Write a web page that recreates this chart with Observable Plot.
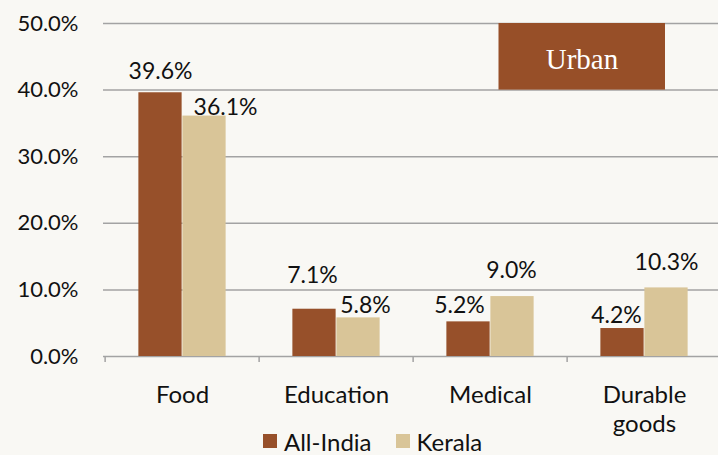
<!DOCTYPE html>
<html>
<head>
<meta charset="utf-8">
<script src="https://cdn.jsdelivr.net/npm/d3@7"></script>
<script src="https://cdn.jsdelivr.net/npm/@observablehq/plot@0.6"></script>
<style>
  html, body { margin: 0; padding: 0; background: #f9f8f4; width: 718px; height: 455px; overflow: hidden; }
  #chart { width: 722px; }
  #chart svg { display: block; overflow: visible; max-width: none !important; }
  .legend { display: flex; align-items: center; height: 18px; padding-left: 263px; font-family: Lato, sans-serif; font-size: 24px; color: #111; }
  .legend .sw { width: 14px; height: 14px; margin-right: 7px; }
  .legend .item { display: flex; align-items: center; margin-right: 24px; }
</style>
</head>
<body>
<div id="chart"></div>
<div class="legend" id="legend"></div>
<script>
// ---- data ----
const categories = ["Food", "Education", "Medical", "Durable goods"];
const tickLabels = ["Food", "Education", "Medical", "Durable\ngoods"];
const seriesNames = ["All-India", "Kerala"];
const allIndia = [0.396, 0.071, 0.052, 0.042];
const kerala = [0.361, 0.058, 0.090, 0.103];
const yTicks = [0, 0.1, 0.2, 0.3, 0.4, 0.5];
const panelLabel = "Urban";

// ---- styling ----
const colors = {"All-India": "#97502a", "Kerala": "#d9c598"};
const gridColor = "#a3a3a3";
// small pixel nudges of the value labels, as placed in the reference
const nudgeDx = {"All-India": [0, -2, -9, -6], "Kerala": [21, 7, -1, 0]};
const nudgeGap = {"All-India": [14, 26, 9, 6], "Kerala": [1, 5, 19, 18]};

const W = 722, H = 432, ML = 103, MT = 23, MB = 76;
const bw = (W - ML) / categories.length;
const barW = 44;
const outer = (bw - 2 * barW) / 2;

const rows = categories.flatMap((c, i) => [
  {category: c, series: "All-India", value: allIndia[i], i},
  {category: c, series: "Kerala", value: kerala[i], i}
]);
const rowsAI = rows.filter(d => d.series === "All-India");
const rowsK = rows.filter(d => d.series === "Kerala");
const fmt = d3.format(".1%");

const labelMarks = rows.map(d => Plot.text([d], {
  x: "category", y: "value", text: r => fmt(r.value),
  lineAnchor: "bottom",
  dx: (d.series === "All-India" ? -barW / 2 : barW / 2) + nudgeDx[d.series][d.i],
  dy: -nudgeGap[d.series][d.i],
  fontSize: 23, fill: "#111"
}));

const chart = Plot.plot({
  width: W, height: H,
  marginLeft: ML, marginRight: 0, marginTop: MT, marginBottom: MB,
  style: {background: "transparent", fontFamily: "Lato, sans-serif", fontSize: "22px", color: "#111", maxWidth: "none"},
  x: {type: "band", domain: categories, padding: 0, label: null},
  y: {domain: [0, 0.5], label: null},
  marks: [
    Plot.gridY(yTicks, {stroke: gridColor, strokeOpacity: 1, strokeWidth: 1.5}),
    Plot.ruleX(categories, {x: d => d, y1: 0, y2: 0, insetBottom: -6, dx: -bw / 2, stroke: gridColor, strokeWidth: 1.5}),
    Plot.axisY(yTicks, {tickSize: 0, tickPadding: 25, tickFormat: fmt, fontSize: 22}),
    Plot.axisX({tickSize: 0, tickPadding: 26, fontSize: 24, lineHeight: 1.2,
      tickFormat: d => tickLabels[categories.indexOf(d)]}),
    Plot.barY(rowsAI, {x: "category", y: "value", fill: colors["All-India"], insetLeft: outer, insetRight: bw - outer - barW}),
    Plot.barY(rowsK, {x: "category", y: "value", fill: colors["Kerala"], insetLeft: outer + barW, insetRight: outer}),
    Plot.barY([panelLabel], {x: () => "Medical", y1: 0.4, y2: 0.5, fill: "#974f28", insetLeft: 85.5, insetRight: -98}),
    Plot.text([panelLabel], {x: () => "Medical", y: 0.45, dx: 91.5, dy: 3, text: d => d, fill: "#fff",
      fontFamily: "Liberation Serif, serif", fontSize: 29}),
    ...labelMarks
  ]
});
document.getElementById("chart").appendChild(chart);

const legend = document.getElementById("legend");
for (const s of seriesNames) {
  const item = document.createElement("div");
  item.className = "item";
  const sw = document.createElement("span");
  sw.className = "sw";
  sw.style.background = colors[s];
  const t = document.createElement("span");
  t.textContent = s;
  item.appendChild(sw); item.appendChild(t);
  legend.appendChild(item);
}
</script>
</body>
</html>
